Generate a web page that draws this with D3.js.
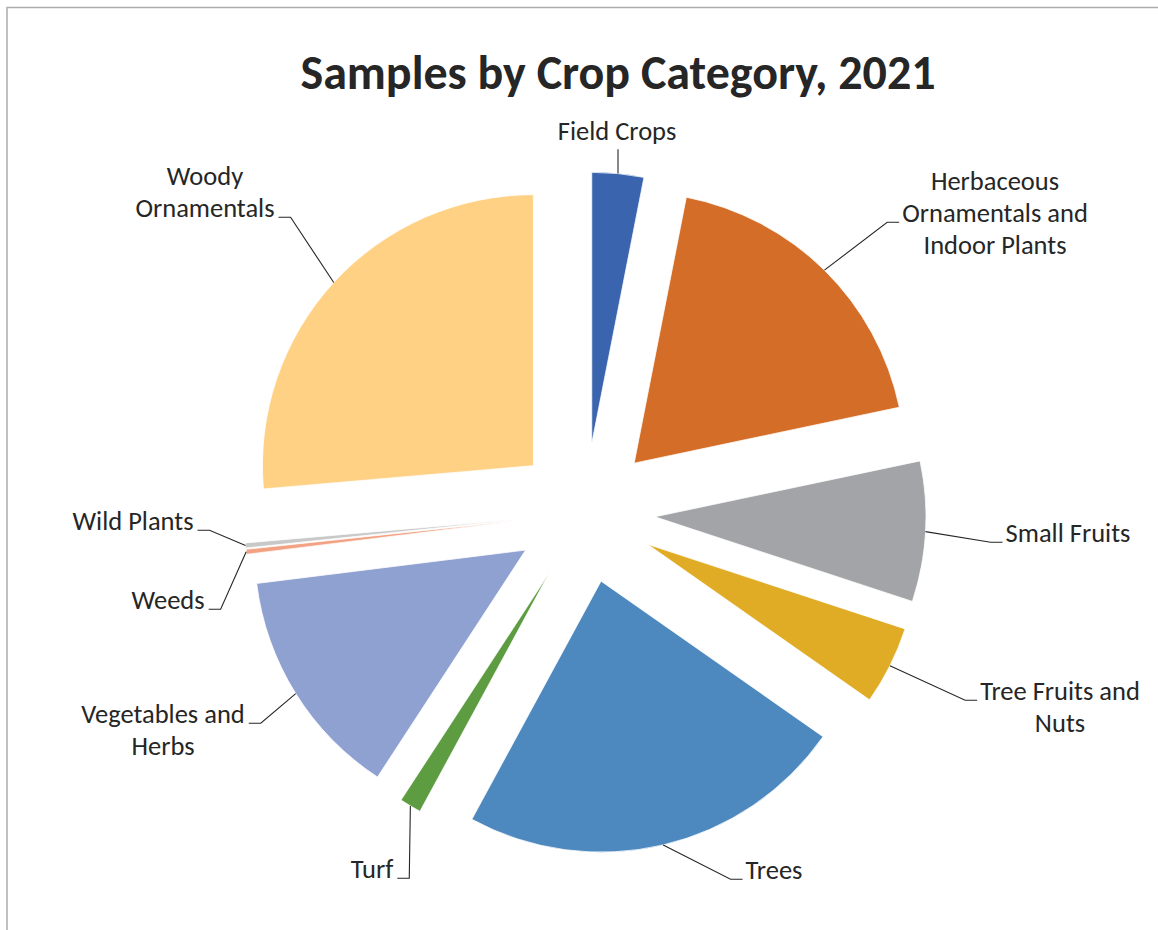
<!DOCTYPE html>
<html>
<head>
<meta charset="utf-8">
<script src="https://cdn.jsdelivr.net/npm/d3@7"></script>
<style>
    html, body { margin: 0; padding: 0; background: #fff; }
    svg { display: block; }
    text { font-family: Carlito, Calibri, Lato, sans-serif; fill: #262626; }
</style>
</head>
<body>
<svg id="chart"></svg>
<script>
// data, clockwise from 12 o'clock
const categories = [
    'Field Crops', 'Herbaceous Ornamentals and Indoor Plants', 'Small Fruits',
    'Tree Fruits and Nuts', 'Trees', 'Turf', 'Vegetables and Herbs',
    'Weeds', 'Wild Plants', 'Woody Ornamentals'
];
const samples = [31, 187, 84, 47, 233, 13, 139, 3, 3, 265];
const labelLines = [
    ['Field Crops'],
    ['Herbaceous', 'Ornamentals and', 'Indoor Plants'],
    ['Small Fruits'],
    ['Tree Fruits and', 'Nuts'],
    ['Trees'],
    ['Turf'],
    ['Vegetables and', 'Herbs'],
    ['Weeds'],
    ['Wild Plants'],
    ['Woody', 'Ornamentals']
];
const sliceColors = ['#3a64ad', '#d46d28', '#a3a4a8', '#e0ab25', '#4d89bf',
    '#5e9c41', '#8fa1d1', '#f2a283', '#c8c8c8', '#ffd185'];

// label placement (offset of text block centre from pie centre, which line the leader hooks to)
const labelLayout = [
    { dx: 32, dy: -382, hook: 'top' },
    { dx: 410, dy: -300, hook: 1 },
    { dx: 483, dy: 20, hook: 0 },
    { dx: 475, dy: 194, hook: 0 },
    { dx: 189, dy: 357, hook: 0 },
    { dx: -213, dy: 356, hook: 0 },
    { dx: -422, dy: 217, hook: 0 },
    { dx: -417, dy: 87, hook: 0 },
    { dx: -452, dy: 8, hook: 0 },
    { dx: -380, dy: -321, hook: 1 }
];

function translate(x, y) {
    return `translate(${x}, ${y})`;
}

const svgWidth = 1158, svgHeight = 930;
const cx = 585, cy = 513, radius = 271, explode = 70;
const fontSize = 26.5, lineHeight = 32;

const svg = d3.select('#chart').attr('width', svgWidth).attr('height', svgHeight);

// chart frame
svg.append('rect')
    .attr('x', 7).attr('y', 7.5)
    .attr('width', svgWidth + 20).attr('height', svgHeight + 20)
    .style('fill', 'none').style('stroke', '#acacac').style('stroke-width', 1.5);

svg.append('text')
    .attr('transform', translate(618, 89))
    .style('text-anchor', 'middle')
    .style('font-size', '48px')
    .style('font-weight', 'bold')
    .text('Samples by Crop Category, 2021');

const data = categories.map((c, i) => ({ key: c, value: samples[i], color: sliceColors[i], lines: labelLines[i], layout: labelLayout[i] }));

const pie = d3.pie().sort(null).value(d => d.value);
const arc = d3.arc().innerRadius(0).outerRadius(radius);
const arcs = pie(data);

const mid = d => (d.startAngle + d.endAngle) / 2;
const unit = a => [Math.sin(a), -Math.cos(a)];

const view = svg.append('g').attr('transform', translate(cx, cy));

view.selectAll('path.slice').data(arcs)
    .enter().append('path')
        .attr('class', 'slice')
        .attr('transform', d => {
            const u = unit(mid(d));
            return translate(u[0] * explode, u[1] * explode);
        })
        .attr('d', arc)
        .style('fill', d => d.data.color)
        .style('stroke', '#fff')
        .style('stroke-width', 0.75);

const labels = view.append('g');
arcs.forEach(d => {
    const lay = d.data.layout;
    const n = d.data.lines.length;
    const firstBase = lay.dy - (n - 1) * lineHeight / 2 + fontSize * 0.35;
    const t = labels.append('text')
        .style('text-anchor', 'middle')
        .style('font-size', fontSize + 'px');
    d.data.lines.forEach((line, j) => {
        t.append('tspan').attr('x', lay.dx).attr('y', firstBase + j * lineHeight).text(line);
    });
    const box = t.node().getBBox();
    const u = unit(mid(d));
    const start = [u[0] * (radius + explode), u[1] * (radius + explode)];
    let pts;
    if (lay.hook === 'top') {
        pts = [start, [start[0], box.y + box.height + 2]];
    } else {
        const hy = firstBase + lay.hook * lineHeight;
        if (lay.dx > 0) {
            const ex = box.x - 3;
            pts = [start, [ex - 12, hy], [ex, hy]];
        } else {
            const ex = box.x + box.width + 4;
            pts = [start, [ex + 12, hy], [ex, hy]];
        }
    }
    labels.append('path')
        .attr('d', d3.line()(pts))
        .style('fill', 'none')
        .style('stroke', '#262626')
        .style('stroke-width', 1.1);
});
</script>
</body>
</html>
